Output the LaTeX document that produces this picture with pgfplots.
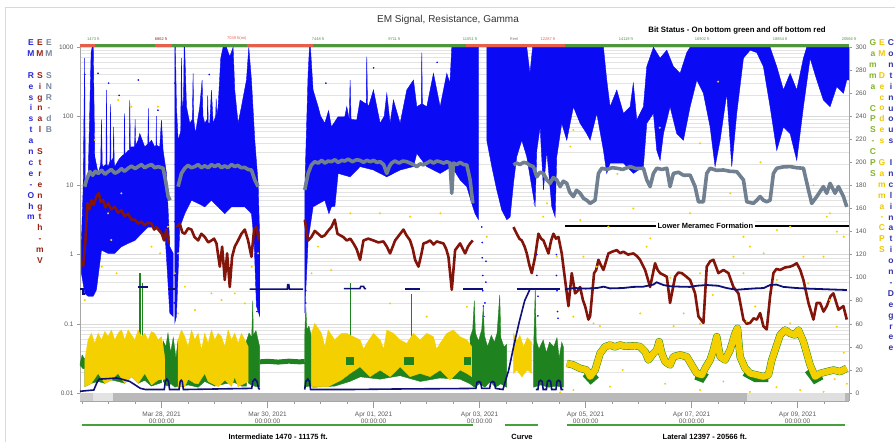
\documentclass[border=0pt]{standalone}
\usepackage{pgfplots}
\pgfplotsset{compat=1.18}
\usepackage{fontspec}
\setmainfont{Liberation Sans}
\definecolor{cblue}{RGB}{10,10,245}
\definecolor{cred}{RGB}{130,20,10}
\definecolor{cgray}{RGB}{112,128,144}
\definecolor{cgreen}{RGB}{30,130,30}
\definecolor{cyellow}{RGB}{245,208,0}
\definecolor{cnavy}{RGB}{15,15,120}
\definecolor{sgreen}{RGB}{80,150,60}
\definecolor{sred}{RGB}{230,95,75}
\definecolor{lgreen}{RGB}{70,160,60}
\definecolor{tickgray}{RGB}{90,90,90}
\definecolor{lblue}{RGB}{40,40,220}
\definecolor{lred}{RGB}{150,35,20}
\definecolor{lgray}{RGB}{120,135,160}
\definecolor{rgreen}{RGB}{130,180,40}
\definecolor{ryellow}{RGB}{240,200,0}
\definecolor{rnavy}{RGB}{50,50,170}
\begin{document}
\begin{tikzpicture}
\path[use as bounding box] (-80pt,-41pt) rectangle (815pt,401pt);
\draw[gray!30, line width=0.8pt] (-75pt,-41pt) -- (-75pt,394pt) -- (815pt,394pt);
% ---------------- left (log) axis ----------------
\begin{axis}[
  at={(0pt,0pt)}, anchor=south west,
  scale only axis, width=769pt, height=354pt,
  xmin=-1.54, xmax=12.97,
  ymode=log, ymin=0.00766, ymax=1000,
  axis x line*=bottom, axis y line*=left,
  axis line style={draw=gray!70, line width=0.6pt},
  every tick/.style={gray!80, line width=0.5pt},
  tick align=outside,
  major tick length=3pt, minor tick length=0pt,
  xtick={-1.5,-1,...,12.5}, xticklabels={},
  extra x ticks={0,2,4,6,8,10,12},
  extra x tick labels={{Mar 28, 2021\\00:00:00},{Mar 30, 2021\\00:00:00},{Apr 01, 2021\\00:00:00},{Apr 03, 2021\\00:00:00},{Apr 05, 2021\\00:00:00},{Apr 07, 2021\\00:00:00},{Apr 09, 2021\\00:00:00}},
  extra x tick style={major tick length=7pt},
  x tick label style={align=center, font=\fontsize{6.5}{7.5}\selectfont, text=tickgray},
  ytick={0.01,0.1,1,10,100,1000},
  yticklabels={0.01,0.1,1,10,100,1000},
  minor ytick={0.02,0.03,0.04,0.05,0.06,0.07,0.08,0.09,0.2,0.3,0.4,0.5,0.6,0.7,0.8,0.9,2,3,4,5,6,7,8,9,20,30,40,50,60,70,80,90,200,300,400,500,600,700,800,900},
  y tick label style={font=\fontsize{6.5}{7.5}\selectfont, text=tickgray},
  ymajorgrids, yminorgrids,
  major grid style={gray!30, line width=0.5pt},
  minor grid style={gray!22, line width=0.5pt},
]
% ---- EM Resistance (blue) ----
\addplot[draw=cblue, fill=cblue, line width=0.4pt] coordinates {
(-1.513,1.6) (-1.481,8.6) (-1.452,690) (-1.440,8.6) (-1.387,12) (-1.330,830) (-1.310,990) (-1.290,990) (-1.261,26) (-1.198,15) (-1.15,20) (-1.135,90) (-1.12,20) (-1.104,18.7) (-1.050,20) (-1.041,240) (-1.030,20) (-1.010,18.7) (-0.975,22) (-0.965,150) (-0.955,22) (-0.915,25) (-0.905,70) (-0.895,22) (-0.884,18.7) (-0.80,24) (-0.76,26) (-0.71,28) (-0.70,110) (-0.69,28) (-0.632,32) (-0.610,32) (-0.601,171) (-0.590,34) (-0.569,36) (-0.51,36) (-0.50,90) (-0.49,38) (-0.443,45) (-0.412,56) (-0.318,36) (-0.26,40) (-0.25,130) (-0.24,40) (-0.192,45) (-0.129,36) (-0.105,38) (-0.10,100) (-0.095,38) (-0.035,36) (-0.003,88) (0.028,32) (0.091,15) (0.154,1.3) (0.217,1.04)
(0.217,0.128) (0.154,0.143) (0.110,0.54) (0.072,1.6) (-0.003,2.0) (-0.129,2.5) (-0.255,2.5) (-0.381,2.0) (-0.506,1.6) (-0.632,1.45) (-0.758,1.3) (-0.884,1.04) (-1.010,1.04) (-1.135,1.16) (-1.230,0.31) (-1.292,0.25) (-1.387,0.25) (-1.450,0.275) (-1.513,0.54)} -- cycle;
\addplot[draw=cblue, fill=cblue, line width=0.4pt] coordinates {
(0.248,990) (0.260,990) (0.280,137) (0.311,45) (0.360,60) (0.374,690) (0.390,100) (0.415,200) (0.425,990) (0.435,990) (0.469,137) (0.531,79) (0.580,90) (0.594,416) (0.605,90) (0.638,56) (0.720,137) (0.764,333) (0.780,100) (0.814,79) (0.860,90) (0.870,200) (0.880,80) (0.909,79) (0.940,239) (0.972,79) (1.020,100) (1.030,180) (1.040,100) (1.066,137) (1.116,690) (1.160,990) (1.223,990) (1.286,724) (1.349,990) (1.380,239) (1.443,79) (1.506,137) (1.601,333) (1.645,990) (1.695,333) (1.758,45) (1.821,10.7) (1.852,1.6)
(1.852,0.128) (1.789,0.18) (1.745,1.6) (1.695,3.9) (1.569,4.9) (1.443,4.9) (1.318,4.9) (1.192,3.9) (1.066,4.9) (0.940,6.1) (0.814,4.9) (0.689,5.5) (0.563,6.1) (0.437,3.9) (0.343,2.5) (0.280,0.128) (0.248,0.103)} -- cycle;
\addplot[draw=cblue, fill=cblue, line width=0.4pt] coordinates {
(2.701,8.6) (2.764,416) (2.790,990) (2.808,990) (2.858,239) (2.953,137) (3.000,100) (3.079,79) (3.150,120) (3.204,70) (3.330,98) (3.456,98) (3.494,137) (3.540,90) (3.557,333) (3.575,90) (3.682,88) (3.745,171) (3.860,150) (3.871,724) (3.885,150) (3.903,137) (3.997,239) (4.123,79) (4.200,100) (4.249,214) (4.311,79) (4.374,171) (4.500,79) (4.626,239) (4.752,333) (4.815,137) (4.900,150) (4.909,830) (4.920,150) (5.003,137) (5.129,416) (5.255,137) (5.381,416) (5.440,300) (5.475,990) (5.978,990)
(5.978,3.2) (5.915,3.9) (5.852,5.5) (5.758,9.6) (5.632,12) (5.475,18.7) (5.255,14.9) (5.003,18.7) (4.815,29) (4.752,18.7) (4.500,16.7) (4.249,13.3) (3.997,16.7) (3.745,18.7) (3.557,13.3) (3.330,14.9) (3.270,5) (3.204,4.9) (3.157,3.9) (3.079,6.1) (2.858,4.9) (2.764,1.6) (2.701,0.143)} -- cycle;
\addplot[draw=cblue, fill=cblue, line width=0.4pt] coordinates {
(6.135,990) (6.890,990) (6.950,416) (7.000,990) (8.337,990) (8.399,333) (8.462,137) (8.588,239) (8.714,110) (8.840,137) (8.900,300) (8.966,88) (9.091,137) (9.154,520) (9.280,990) (9.406,690) (9.532,900) (9.657,520) (9.783,416) (9.909,830) (9.972,990) (11.481,990) (11.607,520) (11.733,239) (11.859,416) (11.984,239) (12.110,690) (12.173,990) (12.97,990)
(12.97,333) (12.928,333) (12.865,214) (12.739,267) (12.613,137) (12.487,171) (12.362,333) (12.236,690) (12.110,137) (11.984,23) (11.859,56) (11.733,70) (11.607,32) (11.481,137) (11.355,520) (11.230,830) (11.104,900) (10.978,690) (10.852,110) (10.758,18.7) (10.664,214) (10.538,45) (10.443,18.7) (10.349,70) (10.223,214) (10.098,333) (9.972,137) (9.846,45) (9.720,56) (9.594,137) (9.469,56) (9.406,23) (9.343,32) (9.280,110) (9.154,79) (9.091,18.7) (8.903,14.9) (8.714,21) (8.588,21) (8.462,21) (8.399,14.9) (8.337,32) (8.211,110) (8.085,45) (8.022,56) (7.896,79) (7.770,137) (7.645,45) (7.550,79) (7.456,26) (7.425,3.5) (7.362,4.9) (7.267,32) (7.205,8.6) (7.142,70) (7.079,32) (7.047,4.9) (6.984,9.6) (6.890,26) (6.796,45) (6.701,26) (6.639,10.7) (6.576,3.5) (6.513,3.2) (6.418,4.4) (6.324,8.6) (6.230,18.7) (6.135,45)} -- cycle;
\addplot[only marks, mark=*, mark size=0.6pt, cblue] coordinates {
(-0.44,333) (-1.2,416) (-0.07,122) (0.24,0.2) (0.24,0.5) (0.25,3) (0.26,20) (0.26,80) (0.25,300) (0.15,0.2) (0.2,0.15) (1.82,0.5) (1.83,0.2) (1.80,0.15) (2.72,0.3) (2.72,0.2) (6.04,2.5) (6.05,1.5) (6.05,0.9) (6.06,0.5) (6.06,0.3) (6.07,0.18) (6.08,0.128) (6.10,0.2) (6.12,0.4) (6.12,0.8) (7.08,1.0) (7.08,0.5) (7.10,0.25) (7.10,0.13) (7.45,1.0) (7.45,0.5) (7.46,0.3) (7.47,0.15) (7.48,0.12) (-1.0,300) (-0.8,200) (0.9,400) (3.1,300) (4.0,500) (5.2,600) (-1.30,500) (-1.45,400)};
% ---- EM SNR (gray) ----
\addplot[cgray, line width=3.6pt, line join=round] coordinates {(-1.450,9.6) (-1.418,12) (-1.355,15.8) (-1.30,14) (-1.25,16) (-1.198,14.9) (-1.13,16.5) (-1.07,14.5) (-1.010,15.8) (-0.95,17) (-0.88,15) (-0.821,15.8) (-0.76,17.5) (-0.70,16) (-0.632,17.7) (-0.57,19) (-0.50,17.5) (-0.443,18.7) (-0.38,20) (-0.32,18) (-0.255,19.2) (-0.19,20) (-0.13,18) (-0.066,18.7) (0.028,17.7) (0.072,12) (0.123,6.9) (0.160,6.1)};
\addplot[cgray, line width=3.6pt, line join=round] coordinates {(0.311,9.6) (0.374,14.9) (0.437,17.7) (0.50,19.5) (0.56,18) (0.626,18.7) (0.69,20) (0.75,18) (0.814,19.2) (0.88,18) (0.94,20) (1.003,18.7) (1.07,20) (1.13,18) (1.192,19.2) (1.25,18) (1.32,20) (1.380,18.7) (1.44,19.5) (1.50,18) (1.569,18.2) (1.63,17) (1.695,16.7) (1.758,12) (1.821,9.6)};
\addplot[cgray, line width=3.6pt, line join=round] coordinates {(2.701,8.6) (2.764,14.9) (2.827,19.8) (2.89,22) (2.953,21) (3.02,23) (3.08,21) (3.14,22.5) (3.204,22) (3.27,23.5) (3.33,21.5) (3.40,23) (3.456,22.5) (3.52,24) (3.60,22) (3.68,23.5) (3.745,23) (3.81,21.5) (3.87,23) (3.94,22) (4.00,23) (4.06,21.5) (4.123,22) (4.19,20) (4.249,14.9) (4.30,19) (4.34,21) (4.40,22.5) (4.48,21) (4.55,22.5) (4.626,22) (4.69,21) (4.75,20) (4.815,18.7) (4.88,20.5) (4.941,19.8) (5.00,21) (5.07,22.5) (5.13,21) (5.19,22.5) (5.255,22) (5.32,21) (5.38,22) (5.443,21) (5.475,7.7) (5.506,21) (5.57,20) (5.63,21.5) (5.70,20) (5.758,19.8) (5.821,12) (5.871,5.5)};
\addplot[cgray, line width=3.6pt, line join=round] coordinates {(6.639,19.8) (6.70,21) (6.76,20) (6.830,21.5) (6.890,21) (6.95,19.5) (7.016,18.7) (7.079,13.3) (7.14,15.5) (7.205,14.9) (7.27,12) (7.330,10.7) (7.39,13) (7.456,12) (7.519,9.6) (7.58,11.5) (7.645,10.7) (7.70,8) (7.770,6.9) (7.83,8.5) (7.896,7.7) (7.96,6.5) (8.022,6.1) (8.085,5.5) (8.179,6.1) (8.242,14.9) (8.305,17.7) (8.40,17) (8.50,18) (8.588,17.7) (8.70,17) (8.840,18.7) (8.95,17.5) (9.091,17.7) (9.154,12) (9.217,9.6) (9.280,14.9) (9.343,17.7) (9.44,17) (9.532,17.7) (9.594,9.6) (9.657,14.9) (9.75,15.5) (9.85,14) (9.972,14.1) (10.066,9.6) (10.129,5.8) (10.223,5.8) (10.286,14.9) (10.349,17.7) (10.47,16.5) (10.601,16.7) (10.72,16) (10.852,15.8) (10.978,12) (11.041,5.8) (11.167,5.5) (11.230,6.1) (11.293,6.9) (11.355,6.1) (11.418,5.8) (11.481,6.1) (11.544,14.9) (11.607,17.7) (11.73,18.5) (11.859,18.7) (11.98,18) (12.110,17.7) (12.205,8.6) (12.267,5.5) (12.362,6.9) (12.487,9.6) (12.550,7.7) (12.613,10.7) (12.707,7.7) (12.771,9.6) (12.865,6.9) (12.928,4.9)};
% ---- EM Signal Strength (dark red) ----
\addplot[cred, line width=2.6pt, line join=round] coordinates {(-1.481,0.67) (-1.437,1.6) (-1.399,5.5) (-1.36,4.5) (-1.324,6.1) (-1.28,5.2) (-1.230,6.9) (-1.186,7.7) (-1.15,5.8) (-1.104,6.1) (-1.06,4.8) (-1.010,5.5) (-0.95,4.5) (-0.884,4.9) (-0.82,4.0) (-0.758,4.4) (-0.70,3.6) (-0.632,3.9) (-0.57,3.2) (-0.506,3.2) (-0.443,2.8) (-0.38,3.0) (-0.318,2.65) (-0.25,2.9) (-0.192,2.8) (-0.14,2.3) (-0.097,2.5) (-0.04,2.2) (0.003,2.0) (0.047,1.6) (0.091,2.3) (0.135,1.45)};
\addplot[cred, line width=2.6pt, line join=round] coordinates {(0.280,2.5) (0.343,2.8) (0.39,2.1) (0.437,2.0) (0.50,2.4) (0.563,2.3) (0.62,1.8) (0.689,1.6) (0.75,2.0) (0.814,1.8) (0.88,1.5) (0.940,1.6) (0.99,1.7) (1.035,1.45) (1.098,0.67) (1.142,1.3) (1.192,0.43) (1.236,1.04) (1.286,0.34) (1.330,0.93) (1.380,1.3) (1.443,1.6) (1.506,2.0) (1.569,2.3) (1.632,1.6) (1.695,0.93) (1.745,2.3) (1.789,2.5) (1.833,1.6)};
\addplot[cred, line width=2.6pt, line join=round] coordinates {(2.701,3.2) (2.764,1.6) (2.827,1.8) (2.89,2.2) (2.953,2.0) (3.02,1.8) (3.079,1.9) (3.14,2.2) (3.204,2.5) (3.267,3.2) (3.318,2.0) (3.37,1.9) (3.425,1.8) (3.494,1.6) (3.56,1.7) (3.620,1.45) (3.68,1.2) (3.745,0.84) (3.808,1.6) (3.90,1.7) (3.997,1.6) (4.09,1.5) (4.186,1.55) (4.25,1.3) (4.311,1.04) (4.406,1.6) (4.48,1.9) (4.563,2.3) (4.62,1.9) (4.689,1.6) (4.74,1.2) (4.783,0.84) (4.846,0.67) (4.90,1.0) (4.941,1.45) (5.00,1.5) (5.066,1.6) (5.13,1.4) (5.192,1.55) (5.25,1.5) (5.318,1.45) (5.37,1.2) (5.412,0.93) (5.475,0.31) (5.538,1.16) (5.632,1.45) (5.727,1.04) (5.78,1.3) (5.821,1.45) (5.871,1.6)};
\addplot[cred, line width=2.6pt, line join=round] coordinates {(6.639,2.5) (6.701,2.0) (6.75,1.7) (6.796,1.6) (6.85,1.3) (6.890,1.04) (6.94,0.7) (6.984,0.54) (7.047,0.93) (7.110,2.0) (7.16,1.7) (7.205,1.6) (7.25,1.3) (7.299,1.04) (7.35,1.6) (7.393,2.0) (7.44,1.7) (7.487,1.8) (7.550,1.04) (7.613,0.43) (7.676,0.18) (7.739,0.54) (7.802,0.275) (7.85,0.3) (7.896,0.34) (7.95,0.22) (7.990,0.18) (8.053,0.115) (8.085,0.128) (8.160,0.54) (8.20,0.6) (8.242,0.84) (8.29,0.7) (8.337,0.60) (8.431,1.04) (8.50,1.1) (8.588,1.16) (8.65,1.05) (8.714,1.1) (8.80,1.0) (8.903,1.04) (8.97,0.95) (9.028,0.84) (9.123,0.60) (9.217,0.34) (9.311,0.75) (9.36,0.6) (9.406,0.54) (9.532,0.48) (9.594,0.20) (9.689,0.48) (9.75,0.55) (9.815,0.54) (9.90,0.48) (9.972,0.43) (10.066,0.275) (10.129,0.128) (10.223,0.103) (10.286,0.67) (10.35,0.8) (10.412,0.84) (10.506,0.54) (10.601,0.60) (10.695,0.54) (10.789,0.34) (10.884,0.275) (10.978,0.115) (11.04,0.1) (11.104,0.103) (11.17,0.12) (11.230,0.115) (11.293,0.143) (11.355,0.092) (11.418,0.083) (11.481,0.25) (11.544,0.54) (11.60,0.62) (11.670,0.60) (11.76,0.65) (11.859,0.67) (11.92,0.7) (11.984,0.75) (12.05,0.6) (12.110,0.43) (12.205,0.20) (12.299,0.115) (12.36,0.2) (12.425,0.20) (12.49,0.15) (12.550,0.18) (12.62,0.25) (12.676,0.275) (12.771,0.16) (12.865,0.18) (12.928,0.115)};
\end{axis}
% ---------------- right (linear) axis ----------------
\begin{axis}[
  at={(0pt,0pt)}, anchor=south west,
  scale only axis, width=769pt, height=354pt,
  xmin=-1.54, xmax=12.97, ymin=-6.94, ymax=300,
  axis y line*=right, axis x line=none,
  axis line style={draw=gray!70, line width=0.6pt},
  every tick/.style={gray!80, line width=0.5pt},
  tick align=outside, major tick length=3pt,
  ytick={0,20,...,300},
  y tick label style={font=\fontsize{6.5}{7.5}\selectfont, text=tickgray},
  /pgf/number format/assume math mode=true,
  clip=false,
]
% scrollbar
\fill[gray!55] (axis cs:-1.54,-6.94) rectangle (axis cs:12.97,0);
\fill[gray!22] (axis cs:-1.29,-6.94) rectangle (axis cs:-0.915,0);
\fill[gray!25] (axis cs:11.05,-6.94) rectangle (axis cs:12.9,0);
\fill[gray!40] (axis cs:-1.54,-6.94) rectangle (axis cs:-1.29,0);
% ---- Gamma CPS (green) ----
\addplot[draw=cgreen, fill=cgreen] coordinates {(-1.54,25) (-1.50,33) (-1.46,30) (-1.42,27) (-1.42,22) (-1.48,21) (-1.54,24)} -- cycle;
\addplot[draw=cgreen, fill=cgreen] coordinates {(-1.45,30) (-1.0,34) (-0.5,34) (0.0,34) (0.0,9) (-0.192,6) (-0.318,11) (-0.443,8.4) (-0.569,14.2) (-0.695,8.4) (-0.821,10) (-0.947,11.3) (-1.072,8.4) (-1.198,10) (-1.324,8.4) (-1.45,5.5)} -- cycle;
\addplot[draw=cgreen, fill=cgreen] coordinates {(0.03,45) (0.08,40) (0.12,52) (0.17,35) (0.22,48) (0.27,30) (0.31,46) (0.31,6) (0.25,5) (0.18,8) (0.10,6) (0.03,10)} -- cycle;
\addplot[draw=cgreen, fill=cgreen] coordinates {(0.31,34) (1.0,34) (1.60,34) (1.60,6) (1.5,6) (1.38,9) (1.2,8) (1.0,6) (0.814,10) (0.689,5) (0.5,7) (0.31,5)} -- cycle;
\addplot[draw=cgreen, fill=cgreen] coordinates {(1.60,45) (1.65,52) (1.70,48) (1.72,80) (1.73,50) (1.78,54) (1.85,40) (1.85,5) (1.75,6) (1.65,8) (1.60,12)} -- cycle;
\addplot[cgreen, line width=5pt] coordinates {(1.85,27) (2.0,27.5) (2.2,26.8) (2.4,27.6) (2.6,27) (2.70,27.3)};
\addplot[draw=cgreen, fill=cgreen] coordinates {(2.70,50) (2.72,75) (2.74,55) (2.78,58) (2.82,50) (2.86,46) (2.86,5) (2.78,6) (2.70,5)} -- cycle;
\addplot[draw=cgreen, fill=cgreen] coordinates {(2.86,36) (4.0,36) (5.82,36) (5.82,8) (5.63,12) (5.25,13) (4.88,10) (4.5,15) (4.12,12) (3.75,14) (3.55,10) (3.27,6) (2.86,5)} -- cycle;
\addplot[draw=cgreen, fill=cgreen] coordinates {(5.82,48) (5.87,55) (5.90,80) (5.92,52) (5.98,45) (6.04,55) (6.07,75) (6.09,50) (6.15,40) (6.22,50) (6.28,44) (6.33,52) (6.38,85) (6.40,48) (6.46,40) (6.51,42) (6.51,5) (6.40,8) (6.30,5) (6.20,10) (6.10,5) (6.00,8) (5.90,5) (5.82,8)} -- cycle;
\addplot[draw=cgreen, fill=cgreen] coordinates {(7.02,40) (7.05,90) (7.07,45) (7.12,38) (7.20,46) (7.26,35) (7.32,44) (7.40,40) (7.46,48) (7.50,30) (7.55,44) (7.58,40) (7.58,5) (7.45,6) (7.30,5) (7.15,7) (7.02,5)} -- cycle;
\addplot[cgreen, line width=1.5pt] coordinates {(-0.41,50) (-0.41,104)};
\addplot[cgreen, line width=1pt] coordinates {(-0.37,46) (-0.37,95)};
\addplot[cgreen, line width=1pt] coordinates {(3.56,46) (3.56,95)};
\addplot[cgreen, line width=1pt] coordinates {(4.72,46) (4.72,86)};
% ---- EM decodes gamma (yellow) ----
\addplot[draw=cyellow, fill=cyellow] coordinates {(-1.450,28.6) (-1.387,46) (-1.324,51.7) (-1.261,43) (-1.198,51.7) (-1.135,46) (-1.072,53.2) (-1.010,48.8) (-0.947,54.6) (-0.884,46) (-0.821,51.7) (-0.758,54.6) (-0.695,46) (-0.632,54.6) (-0.569,50.3) (-0.506,46) (-0.443,54.6) (-0.381,48.8) (-0.318,51.7) (-0.255,46) (-0.192,53.2) (-0.129,51.7) (-0.066,46) (-0.003,48.8) (0.030,40.2) (0.060,30)
(0.060,12) (-0.066,11.3) (-0.192,7) (-0.318,17) (-0.443,8.4) (-0.569,14.2) (-0.695,8.4) (-0.821,17) (-0.947,11.3) (-1.072,8.4) (-1.198,17) (-1.324,8.4) (-1.450,5.5)} -- cycle;
\addplot[draw=cyellow, fill=cyellow] coordinates {(0.311,46) (0.374,54.6) (0.437,48.8) (0.500,40.2) (0.563,54.6) (0.626,46) (0.689,51.7) (0.752,37.3) (0.814,51.7) (0.877,43) (0.940,54.6) (1.003,46) (1.066,51.7) (1.129,48.8) (1.192,40.2) (1.255,54.6) (1.318,46) (1.380,51.7) (1.443,43) (1.506,51.7) (1.569,46) (1.632,40.2)
(1.632,10) (1.569,8.4) (1.443,5.5) (1.380,14) (1.318,5.5) (1.192,11.3) (1.066,5.5) (1.003,7) (0.877,10) (0.814,17) (0.689,8) (0.626,8.4) (0.500,12) (0.437,5.5) (0.311,5.5)} -- cycle;
\addplot[draw=cyellow, fill=cyellow] coordinates {(2.827,51.7) (2.890,60.4) (3.016,51.7) (3.08,40) (3.142,54.6) (3.267,46) (3.393,51.7) (3.494,51.7) (3.557,50) (3.620,48.8) (3.745,46) (3.81,38) (3.871,43) (3.997,51.7) (4.123,46) (4.19,38) (4.249,54.6) (4.374,51.7) (4.500,46) (4.626,43) (4.752,51.7) (4.877,46) (5.003,51.7) (5.129,48.8) (5.19,38) (5.255,43) (5.381,51.7) (5.506,54.6) (5.632,48.8) (5.758,46) (5.852,40.2)
(5.852,14.2) (5.758,17) (5.632,19.9) (5.443,11.3) (5.255,19.9) (5.066,14.2) (4.877,17) (4.689,14.2) (4.500,22.8) (4.311,14.2) (4.123,19.9) (3.934,14.2) (3.745,22.8) (3.557,17) (3.393,11.3) (3.267,8.4) (3.142,5.5) (3.016,5.5) (2.827,5.5)} -- cycle;
\addplot[draw=cgreen, fill=cgreen] coordinates {(3.49,31) (3.62,31) (3.62,25) (3.49,25)} -- cycle;
\addplot[draw=cgreen, fill=cgreen] coordinates {(4.57,31) (4.75,31) (4.75,25) (4.57,25)} -- cycle;
\addplot[draw=cgreen, fill=cgreen] coordinates {(5.70,31) (5.82,31) (5.82,25) (5.70,25)} -- cycle;
\addplot[draw=cyellow, fill=cyellow] coordinates {(6.639,51.7) (6.70,45) (6.76,50) (6.83,40) (6.90,48) (6.98,44) (6.98,17) (6.90,20) (6.80,14) (6.70,20) (6.639,17)} -- cycle;
% lateral gamma band
\addplot[cgreen, line width=7.4pt, line join=round] coordinates {(7.645,25.7) (7.770,24.3) (7.896,21.4) (8.022,19.9) (8.085,14.2) (8.179,19.9) (8.274,34.4) (8.368,40.2) (8.462,41.6) (8.55,40) (8.651,41.6) (8.75,40.5) (8.840,40.7) (8.93,41) (9.028,40.2) (9.123,35.8) (9.186,28.6) (9.280,34.4) (9.343,37.3) (9.387,44.5) (9.437,34.4) (9.500,27.2) (9.594,24.3) (9.657,31.5) (9.783,33) (9.909,31.5) (10.003,24.3) (10.098,17) (10.192,15.6) (10.255,21.4) (10.349,28.6) (10.412,37.3) (10.475,48.8) (10.538,31.5) (10.632,28.6) (10.727,37.3) (10.821,51.7) (10.865,56.1) (10.915,31.5) (11.010,21.4) (11.104,17) (11.230,15.6) (11.355,14.2) (11.450,15.6) (11.513,28.6) (11.576,37.3) (11.670,50.3) (11.764,54.6) (11.859,51.7) (11.953,50.3) (12.016,54.6) (12.110,44.5) (12.236,24.3) (12.330,14.2) (12.425,17) (12.550,18.5) (12.676,19.9) (12.802,18.5) (12.928,21.4)};
\addplot[cgreen, line width=8pt] coordinates {(8.0,17) (8.1,12) (8.2,16)};
\addplot[cgreen, line width=8pt] coordinates {(10.08,15) (10.19,13) (10.26,18)};
\addplot[cgreen, line width=8pt] coordinates {(11.0,18) (11.2,13) (11.45,13)};
\addplot[cgreen, line width=8pt] coordinates {(12.2,20) (12.33,12) (12.45,15)};
\addplot[cyellow, line width=6.5pt, line join=round] coordinates {(7.645,25.7) (7.770,24.3) (7.896,21.4) (8.022,19.9) (8.085,14.2) (8.179,19.9) (8.274,34.4) (8.368,40.2) (8.462,41.6) (8.55,40) (8.651,41.6) (8.75,40.5) (8.840,40.7) (8.93,41) (9.028,40.2) (9.123,35.8) (9.186,28.6) (9.280,34.4) (9.343,37.3) (9.387,44.5) (9.437,34.4) (9.500,27.2) (9.594,24.3) (9.657,31.5) (9.783,33) (9.909,31.5) (10.003,24.3) (10.098,17) (10.192,15.6) (10.255,21.4) (10.349,28.6) (10.412,37.3) (10.475,48.8) (10.538,31.5) (10.632,28.6) (10.727,37.3) (10.821,51.7) (10.865,56.1) (10.915,31.5) (11.010,21.4) (11.104,17) (11.230,15.6) (11.355,14.2) (11.450,15.6) (11.513,28.6) (11.576,37.3) (11.670,50.3) (11.764,54.6) (11.859,51.7) (11.953,50.3) (12.016,54.6) (12.110,44.5) (12.236,24.3) (12.330,14.2) (12.425,17) (12.550,18.5) (12.676,19.9) (12.802,18.5) (12.928,21.4)};
% ---- Continuous inclination (navy) ----
\addplot[cnavy, line width=1.6pt] coordinates {(-1.54,1.5) (-1.28,2.6) (-1.22,9) (-1.18,12) (-1.0,12.5) (-0.85,13) (-0.75,12) (-0.6,10) (-0.5,7) (-0.4,4) (-0.3,3) (0.05,3) (0.07,10) (0.10,12) (0.13,10) (0.15,3) (0.33,3) (0.35,10) (0.37,11) (0.39,10) (0.41,3) (1.70,4) (1.72,10) (1.76,12) (1.80,10) (1.83,4) (1.85,3)};
\addplot[cnavy, line width=1.6pt] coordinates {(2.70,3) (2.72,10) (2.76,12) (2.79,10) (2.81,3) (3.5,3) (4.5,3.5) (5.5,3.8) (5.93,4) (5.95,9) (5.99,10) (6.02,9) (6.04,4) (6.19,4) (6.21,9) (6.25,10) (6.28,9) (6.30,4) (6.44,3) (6.55,20) (6.65,42) (6.75,62) (6.85,80) (6.95,90)};
\addplot[cnavy, line width=1.6pt] coordinates {(7.06,3) (7.10,3) (7.12,10) (7.15,11) (7.18,10) (7.20,3) (7.26,3) (7.28,10) (7.31,11) (7.34,10) (7.36,3) (7.44,3) (7.46,10) (7.49,11) (7.52,10) (7.54,3) (7.58,3)};
\addplot[cnavy, line width=1.6pt] coordinates {(-1.54,90) (-1.48,90) (-1.48,86) (-1.44,86)};
\addplot[cnavy, line width=1.6pt] coordinates {(-0.44,92) (-0.26,92)};
\addplot[cnavy, line width=1.6pt] coordinates {(0.12,90) (0.25,90)};
\addplot[cnavy, line width=1.6pt] coordinates {(1.66,90) (2.37,90) (2.38,94) (2.40,94) (2.41,90) (2.67,90)};
\addplot[cnavy, line width=1.6pt] coordinates {(3.44,90.5) (3.74,90.5) (3.76,92.5) (3.81,92.5) (3.83,90.5) (3.86,90.5)};
\addplot[cnavy, line width=1.6pt] coordinates {(4.594,90) (4.877,90)};
\addplot[cnavy, line width=1.6pt] coordinates {(5.695,90) (6.073,90)};
\addplot[cnavy, line width=1.6pt] coordinates {(6.70,90) (7.52,90)};
\addplot[cnavy, line width=1.8pt] coordinates {(7.61,90) (7.8,91) (8.0,90.5) (8.085,90.7) (8.21,91) (8.34,92.2) (8.46,90.7) (8.7,91) (8.9,92) (9.09,92.2) (9.28,94) (9.34,96) (9.47,93.6) (9.6,92.5) (9.78,92.2) (9.97,92) (10.1,93) (10.29,93.6) (10.5,93) (10.66,91) (10.85,89.5) (10.98,90) (11.2,90.7) (11.36,91) (11.48,93.6) (11.6,94) (11.73,92) (11.98,91) (12.2,90.5) (12.5,90) (12.8,89.5) (12.93,89.3)};
% ---- scattered EM decodes (yellow dots) ----
\addplot[only marks, mark=*, mark size=0.8pt, cyellow] coordinates {
(10.16,216.5) (10.73,173.1) (12.55,152.9) (12.61,155.8) (12.74,139.9) (11.86,144.2) (12.87,135.5) (9.97,155.8) (9.22,134.1) (9.15,126.9) (11.61,141.3) (11.36,121.1) (10.79,118.2) (12.11,118.2) (10.16,103.8) (10.98,103.8) (12.49,118.2) (8.43,144.2) (8.21,109.5) (9.03,69.0) (9.85,69.0) (10.98,135.5) (11.10,126.9) (11.61,98.0) (12.61,80.6) (12.74,57.5) (11.86,60.4) (11.04,62) (10.16,60) (9.66,58) (12.87,35) (8.27,58) (10.16,2.6) (11.10,1.0) (12.05,2.6) (8.46,5.5) (12.49,1.0) (12.93,8)
(7.77,228) (7.71,213.6) (7.02,164.5) (7.20,152.9) (5.26,155.8) (4.12,155.8) (4.69,152.9) (3.56,155.8) (7.96,118.2) (7.77,66.2) (8.15,60.4) (6.135,135.5) (7.46,118.2) (4.31,77.7) (5.76,74.8) (5.0,66.2) (7.27,164.5) (7.90,150) (7.77,2.6) (7.52,0.5)
(-0.82,254) (-0.57,248.3) (-0.07,248.3) (-1.26,219.4) (-1.01,155.8) (-0.85,103.8) (-0.03,121.1) (0.25,103.8) (0.44,92.2) (0.31,121.1) (0.94,86.4) (1.13,80.6) (1.70,109.5) (1.82,121.1) (-1.13,109.5) (-1.45,80.6) (-0.76,173.1) (-0.95,132.7) (-0.19,126.9) (0.12,144.2) (0.31,69) (0.63,72) (1.38,86.4) (1.57,77.7) (2.95,126.9) (3.2,106.6) (2.83,103.8)
(8.6,190) (9.4,230) (10.5,270) (11.3,200) (12.3,180) (8.9,160) (9.6,100) (10.4,85) (11.2,75) (12.2,95) (8.7,20) (9.5,8) (10.6,10) (11.6,5) (12.7,12)};
% ---- Lower Meramec Formation ----
\addplot[black, line width=1.8pt] coordinates {(7.62,145) (12.97,145)};
\node[fill=white, inner sep=2pt, font=\bfseries\fontsize{7.5}{8}\selectfont] at (axis cs:10.26,145) {Lower Meramec Formation};
% ---- bit status bar ----
\addplot[sred, line width=3pt] coordinates {(-1.54,301.5) (-1.255,301.5)};
\addplot[sgreen, line width=3pt] coordinates {(-1.255,301.5) (-0.123,301.5)};
\addplot[sred, line width=3pt] coordinates {(-0.123,301.5) (0.198,301.5)};
\addplot[sgreen, line width=3pt] coordinates {(0.198,301.5) (1.613,301.5)};
\addplot[sred, line width=3pt] coordinates {(1.613,301.5) (2.858,301.5)};
\addplot[sgreen, line width=3pt] coordinates {(2.858,301.5) (5.745,301.5)};
\addplot[sred, line width=3pt] coordinates {(5.745,301.5) (7.613,301.5)};
\addplot[sgreen, line width=3pt] coordinates {(7.613,301.5) (12.97,301.5)};
\begin{scope}[every node/.style={font=\fontsize{4}{4.5}\selectfont, inner sep=0pt}]
\node[text=sgreen] at (axis cs:-1.29,307) {1473 ft};
\node[text=lred] at (axis cs:-0.01,307) {6862 ft};
\node[text=sred] at (axis cs:1.42,307) {7039 ft(on)};
\node[text=sgreen] at (axis cs:2.95,307) {7448 ft};
\node[text=sgreen] at (axis cs:4.39,307) {9711 ft};
\node[text=sgreen] at (axis cs:5.82,307) {11051 ft};
\node[text=gray] at (axis cs:6.65,307) {Reel};
\node[text=sred] at (axis cs:7.29,307) {12287 ft};
\node[text=sgreen] at (axis cs:8.76,307) {14119 ft};
\node[text=sgreen] at (axis cs:10.2,307) {16902 ft};
\node[text=sgreen] at (axis cs:11.67,307) {18854 ft};
\node[text=sgreen] at (axis cs:12.97,307) {20566 ft};
\end{scope}
% ---- section bars below ----
\addplot[lgreen, line width=2.5pt] coordinates {(-1.5,-27.7) (5.88,-27.7)};
\addplot[lgreen, line width=2.5pt] coordinates {(6.48,-27.7) (7.10,-27.7)};
\addplot[lgreen, line width=2.5pt] coordinates {(7.65,-27.7) (12.9,-27.7)};
\node[font=\bfseries\fontsize{7.5}{8}\selectfont] at (axis cs:2.2,-37.8) {Intermediate 1470 - 11175 ft.};
\node[font=\bfseries\fontsize{7.5}{8}\selectfont] at (axis cs:6.8,-37.8) {Curve};
\node[font=\bfseries\fontsize{7.5}{8}\selectfont] at (axis cs:10.25,-37.8) {Lateral 12397 - 20566 ft.};
\end{axis}
% ---- titles ----
\node[font=\fontsize{10}{12}\selectfont, text=black!80] at (368pt,381pt) {EM Signal, Resistance, Gamma};
\node[font=\bfseries\fontsize{7.8}{9}\selectfont] at (657pt,370pt) {Bit Status - On bottom green and off bottom red};
% ---- stacked axis labels ----
\begin{scope}[every node/.style={anchor=north, align=center, inner sep=0pt, font=\bfseries\fontsize{8.5}{10.9}\selectfont}]
\node[text=lblue] at (-49pt,361.5pt) {E\\M\\~\\R\\e\\s\\i\\s\\t\\a\\n\\c\\e\\-\\O\\h\\m};
\node[text=lred] at (-40pt,361.5pt) {E\\M\\~\\S\\i\\g\\n\\a\\l\\~\\S\\t\\r\\e\\n\\g\\t\\h\\-\\m\\V};
\node[text=lgray] at (-31pt,361.5pt) {E\\M\\~\\S\\N\\R\\-\\d\\B};
\node[text=rgreen] at (793pt,361.5pt) {G\\a\\m\\m\\a\\~\\C\\P\\S\\-\\C\\P\\S};
\node[text=ryellow] at (802pt,361.5pt) {E\\M\\~\\D\\e\\c\\o\\d\\e\\s\\~\\G\\a\\m\\m\\a\\-\\C\\P\\S};
\node[text=rnavy] at (811pt,361.5pt) {C\\o\\n\\t\\i\\n\\u\\o\\u\\s\\~\\I\\n\\c\\l\\i\\n\\a\\t\\i\\o\\n\\-\\D\\e\\g\\r\\e\\e};
\end{scope}
\end{tikzpicture}
\end{document}
